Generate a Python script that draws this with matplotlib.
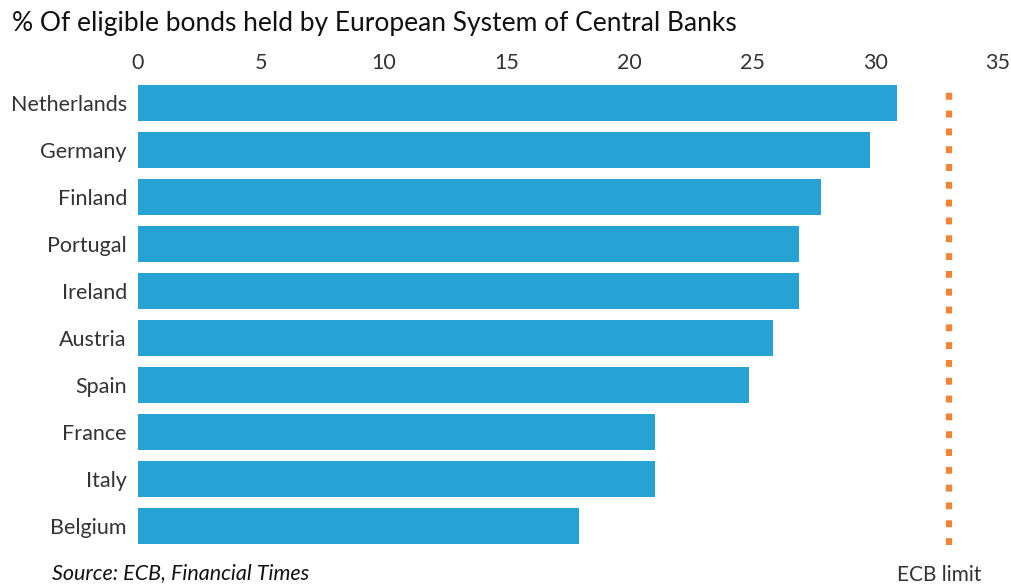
import matplotlib
matplotlib.use('Agg')
import matplotlib.pyplot as plt

countries = ['Netherlands', 'Germany', 'Finland', 'Portugal', 'Ireland',
             'Austria', 'Spain', 'France', 'Italy', 'Belgium']
share = [30.9, 29.8, 27.8, 26.9, 26.9, 25.85, 24.85, 21.05, 21.05, 17.95]
ecb_limit = 33
xticks = [0, 5, 10, 15, 20, 25, 30, 35]

plt.rcParams['font.family'] = ['Lato', 'DejaVu Sans']
txt = '#333333'

fig = plt.figure(figsize=(10.11, 5.87), dpi=100)
ax = fig.add_axes([138/1011, 1 - 549.5/587, 860/1011, 470/587])

ypos = list(range(len(countries)))
ax.barh(ypos, share, height=0.77, color='#27A2D4', zorder=2)
ax.axvline(ecb_limit, ymin=0.01, ymax=0.99, color='#F28435', linewidth=4.5,
           linestyle=(0, (1.1, 1.75)), zorder=3)

ax.set_xlim(0, 35)
ax.set_ylim(len(countries) - 0.5, -0.5)
ax.set_yticks(ypos)
ax.set_yticklabels(countries, fontsize=15.5, color=txt)
ax.set_xticks(xticks)
ax.set_xticklabels([str(t) for t in xticks], fontsize=15.5, color=txt)
ax.xaxis.tick_top()
ax.tick_params(axis='both', length=0)
ax.tick_params(axis='x', pad=5)
ax.tick_params(axis='y', pad=8)
for s in ax.spines.values():
    s.set_visible(False)

fig.text(12/1011, 1 - 24/587, '% Of eligible bonds held by European System of Central Banks',
         fontsize=19, color='#111111', va='center', ha='left')
fig.text(52/1011, 1 - 573/587, 'Source: ECB, Financial Times', fontsize=15.5,
         style='italic', color='#111111', va='center', ha='left')
fig.text(939/1011, 1 - 575/587, 'ECB limit', fontsize=15, color=txt,
         va='center', ha='center')

fig.savefig('out.png', dpi=100)
